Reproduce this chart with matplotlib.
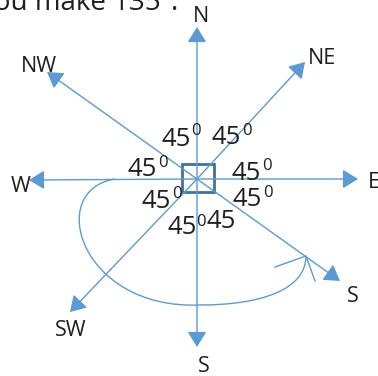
import matplotlib.pyplot as plt
from matplotlib.path import Path
from matplotlib.patches import PathPatch, Rectangle

# compass diagram, coordinates in pixels of the 378x376 picture (y down)
center = (197, 179)
dir_names = ["N", "NE", "E", "S", "S", "SW", "W", "NW"]
tip_x = [197, 305, 358, 340, 197, 70, 29, 47]
tip_y = [27, 62, 179, 281, 347, 312, 180, 72]
label_x = [201, 322, 368, 353, 204, 71, 21, 39]
label_y = [17, 58, 182, 296, 366, 331, 186, 66]

# "45" angle labels and their superscript zeros
angle_x = [176, 226, 142, 246, 156, 247, 182, 221]
angle_y = [139, 138, 170, 174, 201, 200, 228, 221]
sup_x = [195, 246, 162, 266, 176, 267, None, None]
sup_y = [131, 131, 163, 166, 194, 193, None, None]
bottom_sup = (201, 222)

# turning curve (two cubic pieces) and its open arrow head
curve_x = [115, 45, 80, 200, 260, 306, 306]
curve_y = [179, 190, 310, 305, 305, 290, 256]
barb_x = [275, 306, 315]
barb_y = [267, 256, 281]

blue = "#5B9BD5"
dark = "#41719C"
ink = "#1f1f1f"
font = "Open Sans"

fig = plt.figure(figsize=(3.78, 3.76), dpi=100)
ax = fig.add_axes([0, 0, 1, 1])
ax.set_xlim(0, 378)
ax.set_ylim(376, 0)
ax.axis("off")

for tx, ty in zip(tip_x, tip_y):
    ax.annotate("", xy=(tx, ty), xytext=center,
                arrowprops=dict(arrowstyle="-|>,head_length=0.47,head_width=0.29",
                                mutation_scale=20, color=blue, lw=1.0,
                                shrinkA=0, shrinkB=0))

for name, lx, ly in zip(dir_names, label_x, label_y):
    ha = "left" if name == "E" else "center"
    ax.text(lx, ly, name, fontsize=15.5, family=font, color=ink,
            ha=ha, va="center")

ax.add_patch(Rectangle((182, 164), 32, 28, fill=False, ec=dark, lw=2.0))

for axx, ayy in zip(angle_x, angle_y):
    ax.text(axx, ayy, "45", fontsize=18.5, family=font, color=ink,
            ha="center", va="center")
for sx, sy in zip(sup_x, sup_y):
    if sx is None:
        continue
    ax.text(sx + 1, sy, "0", fontsize=12, family=font, color=ink,
            ha="center", va="center")
ax.text(bottom_sup[0], bottom_sup[1], "0", fontsize=12, family=font,
        color=ink, ha="center", va="center")

verts = list(zip(curve_x, curve_y))
codes = [Path.MOVETO] + [Path.CURVE4] * 6
ax.add_patch(PathPatch(Path(verts, codes), fill=False, ec=blue, lw=1.0))
ax.plot(barb_x, barb_y, color=blue, lw=1.0)

# cut-off line of text at the top
ax.text(161, 10, "you make 135", fontsize=20, family=font, color=ink,
        ha="right", va="baseline")
ax.text(175, 10, ".", fontsize=20, family=font, color=ink,
        ha="center", va="baseline")

fig.savefig("out.png", dpi=100)
